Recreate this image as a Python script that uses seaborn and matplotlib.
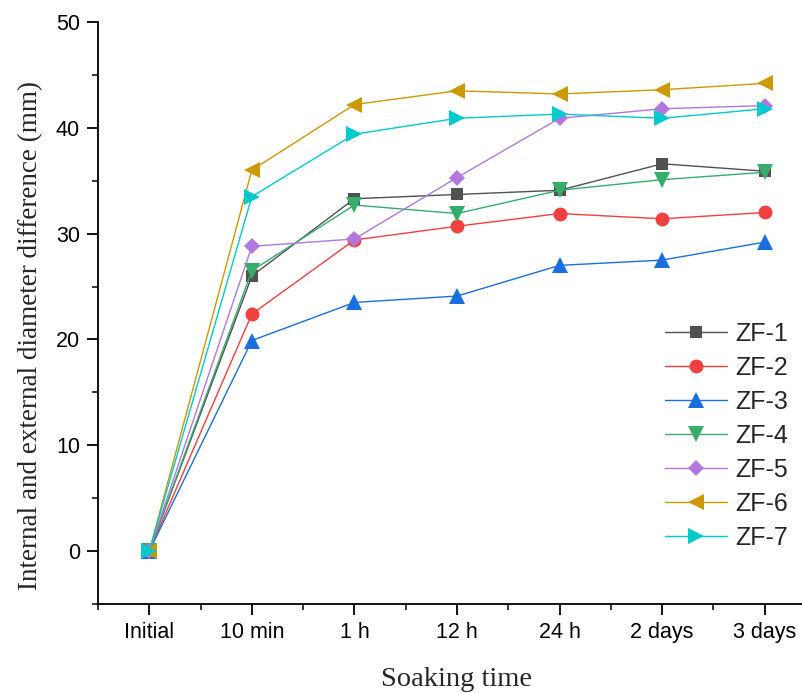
import matplotlib
matplotlib.use("Agg")
import matplotlib.pyplot as plt
import seaborn as sns
import pandas as pd
import numpy as np
from matplotlib.ticker import MultipleLocator

times = ["Initial", "10 min", "1 h", "12 h", "24 h", "2 days", "3 days"]
zf1 = [0, 26.0, 33.3, 33.7, 34.1, 36.6, 35.9]
zf2 = [0, 22.4, 29.4, 30.7, 31.9, 31.4, 32.0]
zf3 = [0, 19.9, 23.5, 24.1, 27.0, 27.5, 29.2]
zf4 = [0, 26.5, 32.7, 31.9, 34.1, 35.1, 35.8]
zf5 = [0, 28.8, 29.5, 35.3, 40.9, 41.8, 42.1]
zf6 = [0, 36.0, 42.2, 43.5, 43.2, 43.6, 44.2]
zf7 = [0, 33.5, 39.4, 40.9, 41.3, 40.9, 41.8]
series_names = ["ZF-1", "ZF-2", "ZF-3", "ZF-4", "ZF-5", "ZF-6", "ZF-7"]
series_values = [zf1, zf2, zf3, zf4, zf5, zf6, zf7]

colors = ["#515151", "#F14040", "#1A6FDF", "#37AD6B", "#B177DE", "#CC9900", "#00CBCC"]
markers = ["s", "o", "^", "v", "D", "<", ">"]

rows = []
for name, vals in zip(series_names, series_values):
    for i, v in enumerate(vals):
        rows.append({"pos": i, "value": v, "sample": name})
df = pd.DataFrame(rows)

sns.set_style("ticks")
plt.rcParams["font.family"] = ["Liberation Sans", "DejaVu Sans"]

fig = plt.figure(figsize=(8.03, 6.93), dpi=100)
ax = fig.add_axes([98/803, 1-604/693, (816-98)/803, (604-22)/693])

sns.lineplot(data=df, x="pos", y="value", hue="sample", style="sample",
             hue_order=series_names, style_order=series_names,
             palette=dict(zip(series_names, colors)),
             markers=dict(zip(series_names, markers)), dashes=False,
             linewidth=1.0, markersize=10, markeredgewidth=0, ax=ax)

for ln in ax.lines:
    m = ln.get_marker()
    if m == "s":
        ln.set_markersize(9)
    elif m == "D":
        ln.set_markersize(8.5)
    elif m == "o":
        ln.set_markersize(10)
    else:
        ln.set_markersize(11)

ax.set_xlim(-0.5, 6.5)
ax.set_ylim(-5, 50)
ax.set_xticks(range(len(times)))
ax.set_xticklabels(times)
ax.xaxis.set_minor_locator(MultipleLocator(0.5))
ax.yaxis.set_major_locator(MultipleLocator(10))
ax.yaxis.set_minor_locator(MultipleLocator(5))
ax.set_yticks([0, 10, 20, 30, 40, 50])

for s in ["top", "right"]:
    ax.spines[s].set_visible(False)
for s in ["left", "bottom"]:
    ax.spines[s].set_linewidth(1.3)
    ax.spines[s].set_color("black")

ax.tick_params(axis="both", which="major", direction="out", length=8, width=1.3,
               labelsize=15.5, colors="black", pad=5)
ax.tick_params(axis="both", which="minor", direction="out", length=4, width=1.3)

ax.set_xlabel("Soaking time", family=["Liberation Serif"], fontsize=20.5, labelpad=17)
ax.set_ylabel("Internal and external diameter difference (mm)",
              family=["Liberation Serif"], fontsize=19.5)
ax.yaxis.set_label_coords(-(98-43)/718, (604-335)/582)

handles, labels = ax.get_legend_handles_labels()
leg = ax.legend(handles, labels, loc="upper left",
                bbox_to_anchor=(665/803, 1-322/693), bbox_transform=fig.transFigure,
                frameon=False, fontsize=18, handlelength=2.5, handletextpad=0.3,
                labelspacing=0.4, borderpad=0, borderaxespad=0)

fig.savefig("out.png", dpi=100)
